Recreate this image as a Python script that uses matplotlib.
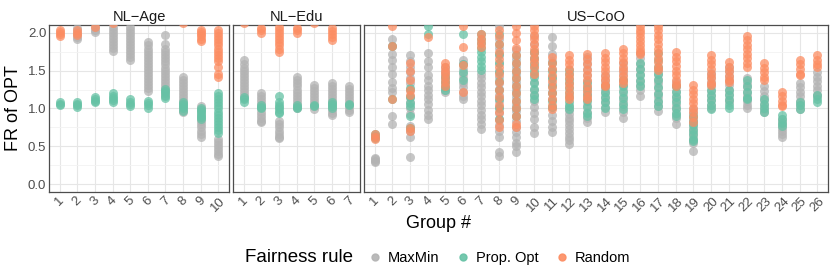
import matplotlib
matplotlib.use('Agg')
import matplotlib.pyplot as plt
from matplotlib.lines import Line2D

plt.rcParams['font.family'] = ['Liberation Sans', 'DejaVu Sans']

PANELS = ['NL−Age', 'NL−Edu', 'US−CoO']
RULES = ['MaxMin', 'Prop. Opt', 'Random']
COLORS = ['#B3B3B3', '#66C2A5', '#FC8D62']
Y_TICKS = [0.0, 0.5, 1.0, 1.5, 2.0]
Y_TICK_LABELS = ['0.0', '0.5', '1.0', '1.5', '2.0']
Y_MINOR = [0.25, 0.75, 1.25, 1.75]

# ---------------- NL-Age (10 groups) ----------------
nl_age_maxmin = [
    [2.3, 2.5],
    [2.06, 2.02, 1.98, 1.94, 1.91],
    [2.08, 2.04, 2.01],
    [2.08, 2.04, 2.0, 1.96, 1.92, 1.88, 1.84, 1.80, 1.76],
    [2.08, 2.04, 2.0, 1.96, 1.92, 1.88, 1.84, 1.80, 1.76, 1.72, 1.68, 1.64],
    [1.87, 1.83, 1.79, 1.75, 1.71, 1.67, 1.63, 1.59, 1.55, 1.51, 1.47, 1.43, 1.39, 1.35, 1.31, 1.27, 1.23],
    [1.97, 1.85, 1.78, 1.74, 1.70, 1.66, 1.62, 1.58, 1.54, 1.50, 1.46, 1.42, 1.38, 1.34, 1.30, 1.26, 1.22, 1.18],
    [1.42, 1.38, 1.34, 1.30, 1.26, 1.22, 1.18, 1.14, 1.10, 1.06, 1.02, 0.98, 0.96],
    [1.03, 0.99, 0.95, 0.91, 0.87, 0.83, 0.79, 0.75, 0.71, 0.67, 0.63],
    [0.60, 0.56, 0.52, 0.48, 0.44, 0.40, 0.37],
]
nl_age_propopt = [
    [1.04, 1.06, 1.08],
    [1.02, 1.04, 1.06, 1.08],
    [1.08, 1.10, 1.12, 1.15],
    [1.08, 1.11, 1.14, 1.17, 1.20],
    [1.03, 1.06, 1.09, 1.12],
    [1.01, 1.04, 1.07, 1.10],
    [1.14, 1.17, 1.20, 1.23, 1.26],
    [0.97, 1.00, 1.03, 1.06, 1.08],
    [0.86, 0.89, 0.92, 0.95, 0.98, 1.01],
    [0.68, 0.72, 0.76, 0.80, 0.84, 0.88, 0.92, 0.96, 1.00, 1.04, 1.08, 1.12, 1.16, 1.20],
]
nl_age_random = [
    [1.95, 1.98, 2.01, 2.04, 2.2],
    [1.97, 2.0, 2.03, 2.2],
    [2.08, 2.2],
    [2.12, 2.3],
    [2.4],
    [2.4],
    [2.4],
    [2.12, 2.3],
    [1.89, 1.92, 1.95, 1.98, 2.01, 2.04, 2.2],
    [1.42, 1.46, 1.55, 1.63, 1.67, 1.71, 1.75, 1.79, 1.83, 1.87, 1.91, 1.95, 1.99, 2.03, 2.2],
]

# ---------------- NL-Edu (7 groups) ----------------
nl_edu_maxmin = [
    [1.64, 1.58, 1.54, 1.50, 1.46, 1.42, 1.38, 1.34, 1.30, 1.26, 1.22, 1.18, 1.14],
    [1.21, 1.16, 1.12, 1.08, 1.04, 1.00, 0.96, 0.92, 0.88, 0.84, 0.82],
    [0.83, 0.79, 0.75, 0.71, 0.67, 0.63, 0.61],
    [1.41, 1.37, 1.33, 1.29, 1.25, 1.21, 1.17, 1.13, 1.09, 1.05, 1.01],
    [1.31, 1.27, 1.23, 1.19, 1.15, 1.11, 1.07, 1.03, 0.99],
    [1.34, 1.30, 1.26, 1.22, 1.18, 1.14, 1.10, 1.06, 1.02, 0.98, 0.94, 0.92],
    [1.30, 1.26, 1.22, 1.18, 1.14, 1.10, 1.06, 1.02, 0.98, 0.96],
]
nl_edu_propopt = [
    [1.09, 1.12, 1.15],
    [1.00, 1.02, 1.04],
    [1.17, 1.08, 1.05, 1.02, 0.99, 0.96, 0.94],
    [1.00, 1.02, 1.04],
    [1.03, 1.05],
    [1.00, 1.03, 1.06, 1.09],
    [1.04, 1.06],
]
nl_edu_random = [
    [2.12, 2.3],
    [2.0, 2.03, 2.06, 2.2],
    [1.75, 1.79, 1.83, 1.87, 1.91, 1.95, 1.99, 2.03, 2.07, 2.2],
    [2.0, 2.03, 2.06, 2.2],
    [2.13, 2.3],
    [1.90, 1.94, 1.98, 2.02, 2.06, 2.2],
    [2.4],
]

# ---------------- US-CoO (26 groups) ----------------
us_coo_maxmin = [
    [0.29, 0.31, 0.33, 0.35],
    [1.91, 1.82, 1.72, 1.64, 1.55, 1.46, 1.35, 1.27, 1.22, 0.90, 0.79],
    [1.70, 1.62, 1.55, 1.48, 1.40, 1.33, 1.25, 1.15, 1.08, 1.00, 0.93, 0.77, 0.70, 0.62, 0.36],
    [1.73, 1.62, 1.55, 1.44, 1.38, 1.30, 1.24, 1.18, 1.12, 1.06, 0.98, 0.92, 0.86],
    [1.55, 1.50, 1.45, 1.40, 1.35, 1.30, 1.25, 1.22],
    [1.64, 1.58, 1.52, 1.46, 1.40, 1.34, 1.28, 1.22, 1.16, 1.12],
    [1.46, 1.40, 1.34, 1.28, 1.22, 1.16, 1.10, 1.04, 0.98, 0.92, 0.86, 0.80, 0.73],
    [2.09, 1.92, 1.80, 1.70, 1.60, 1.50, 1.42, 1.34, 1.26, 1.18, 1.10, 1.02, 0.94, 0.86, 0.78, 0.70, 0.62, 0.43, 0.37],
    [1.77, 1.65, 1.55, 1.45, 1.35, 1.25, 1.15, 1.05, 0.97, 0.90, 0.83, 0.76, 0.69, 0.62, 0.55, 0.51, 0.43],
    [1.95, 1.85, 1.75, 1.65, 1.55, 1.45, 1.35, 1.25, 1.18, 1.10, 1.02, 0.94, 0.86, 0.75, 0.68],
    [1.94, 1.82, 1.72, 1.62, 1.52, 1.42, 1.32, 1.22, 1.12, 1.02, 0.92, 0.84, 0.76, 0.69],
    [1.03, 0.98, 0.93, 0.88, 0.83, 0.78, 0.73, 0.68, 0.63, 0.58, 0.53],
    [1.68, 1.60, 1.52, 1.44, 1.36, 1.28, 1.20, 1.12, 1.04, 0.96, 0.88, 0.82],
    [1.44, 1.38, 1.32, 1.26, 1.20, 1.14, 1.08, 1.02, 0.96],
    [1.60, 1.52, 1.45, 1.38, 1.31, 1.24, 1.17, 1.10, 1.03, 0.96, 0.88],
    [1.73, 1.66, 1.59, 1.52, 1.45, 1.38, 1.31, 1.24, 1.16],
    [1.51, 1.45, 1.39, 1.33, 1.27, 1.21, 1.15, 1.09, 1.03, 0.97],
    [1.35, 1.29, 1.23, 1.17, 1.11, 1.05, 0.99, 0.93, 0.87, 0.79],
    [0.99, 0.94, 0.89, 0.84, 0.79, 0.74, 0.69, 0.64, 0.59, 0.54, 0.44],
    [1.47, 1.41, 1.35, 1.29, 1.23, 1.17, 1.11, 1.05, 1.01],
    [1.55, 1.49, 1.43, 1.37, 1.31, 1.25, 1.19, 1.13, 1.09],
    [1.40, 1.34, 1.28, 1.22, 1.16, 1.10, 1.04, 1.01],
    [1.29, 1.23, 1.17, 1.11, 1.05, 0.99, 0.95],
    [0.86, 0.82, 0.78, 0.74, 0.70, 0.66, 0.62],
    [1.34, 1.28, 1.22, 1.16, 1.10, 1.04, 0.99],
    [1.48, 1.42, 1.36, 1.30, 1.24, 1.18, 1.16],
]
us_coo_propopt = [
    [0.61, 0.64, 0.67],
    [1.82, 1.13],
    [1.27, 1.15, 1.07, 1.03, 0.90, 0.74],
    [2.09, 1.98],
    [1.42, 1.35, 1.28, 1.25],
    [1.98, 1.58, 1.48, 1.37],
    [1.98, 1.92, 1.86, 1.80, 1.74, 1.68, 1.62, 1.56, 1.51],
    [1.98, 1.85, 1.72, 1.60, 1.48, 1.36, 1.24, 1.12, 1.00, 0.86],
    [1.70, 1.60, 1.50, 1.40, 1.30, 1.20, 1.10, 1.00, 0.90],
    [1.74, 1.66, 1.58, 1.50, 1.42, 1.34, 1.26, 1.18, 1.12],
    [1.60, 1.50, 1.40, 1.30, 1.20, 1.10, 1.02],
    [1.51, 1.45, 1.39, 1.33, 1.27, 1.21, 1.15, 1.09, 1.03, 0.99],
    [1.34, 1.26, 1.18, 1.10, 1.02, 0.94, 0.90],
    [1.29, 1.22, 1.15, 1.08, 1.01],
    [1.38, 1.30, 1.22, 1.14, 1.06, 0.99],
    [1.60, 1.52, 1.44, 1.36, 1.29],
    [1.73, 1.64, 1.55, 1.46, 1.37, 1.28, 1.19, 1.10, 1.03],
    [1.29, 1.22, 1.15, 1.08, 1.01, 0.94, 0.90],
    [0.90, 0.84, 0.78, 0.72, 0.66, 0.60, 0.57],
    [1.25, 1.18, 1.11, 1.04, 0.99],
    [1.25, 1.18, 1.11, 1.04, 1.01],
    [1.38, 1.30, 1.22, 1.14, 1.12],
    [1.12, 1.06, 1.00, 0.96],
    [0.91, 0.86, 0.81, 0.77],
    [1.09, 1.04, 0.99],
    [1.18, 1.13, 1.09],
]
us_coo_random = [
    [0.60, 0.63, 0.66],
    [2.09, 1.82, 1.13],
    [1.60, 1.50, 1.37, 1.25, 1.18, 0.74, 0.70],
    [1.94],
    [1.60, 1.55, 1.50, 1.45, 1.40, 1.35, 1.30],
    [2.09, 1.81, 1.57, 1.22],
    [1.98, 1.92, 1.86, 1.81],
    [2.03, 1.95, 1.85, 1.75, 1.65, 1.55, 1.45, 1.35, 1.25, 1.15, 1.05, 0.95, 0.85, 0.75],
    [2.09, 2.00, 1.90, 1.80, 1.70, 1.60, 1.50, 1.40, 1.30, 1.20, 1.10, 1.00, 0.90, 0.80, 0.75],
    [2.09, 2.03, 1.97, 1.91, 1.85, 1.79, 1.73, 1.67, 1.61, 1.55, 1.45],
    [1.68, 1.60, 1.52, 1.44, 1.36, 1.28, 1.20, 1.12, 1.04, 0.99],
    [1.70, 1.64, 1.58, 1.52, 1.46, 1.40, 1.34, 1.28, 1.22, 1.16, 1.12],
    [1.72, 1.65, 1.58, 1.51, 1.44, 1.37, 1.30, 1.23, 1.16, 1.12],
    [1.73, 1.67, 1.61, 1.55, 1.49, 1.43, 1.37, 1.31, 1.29],
    [1.79, 1.73, 1.67, 1.61, 1.55, 1.49, 1.43, 1.37, 1.34],
    [2.09, 2.04, 1.99, 1.94, 1.89, 1.84, 1.79, 1.74, 1.72],
    [2.09, 2.03, 1.97, 1.91, 1.85, 1.79, 1.73, 1.67, 1.61, 1.55, 1.51],
    [1.74, 1.68, 1.62, 1.56, 1.50, 1.44, 1.38, 1.32, 1.29],
    [1.31, 1.25, 1.19, 1.13, 1.07, 1.01, 0.95, 0.89, 0.82],
    [1.70, 1.64, 1.58, 1.52, 1.46, 1.40, 1.34, 1.31],
    [1.61, 1.55, 1.49, 1.43, 1.37, 1.35],
    [1.96, 1.90, 1.84, 1.78, 1.72, 1.66, 1.60, 1.55],
    [1.60, 1.54, 1.48, 1.42, 1.38],
    [1.22, 1.16, 1.10, 1.05, 1.03],
    [1.64, 1.58, 1.52, 1.46, 1.44],
    [1.70, 1.64, 1.58, 1.55],
]

DATA = [
    [nl_age_maxmin, nl_age_propopt, nl_age_random],
    [nl_edu_maxmin, nl_edu_propopt, nl_edu_random],
    [us_coo_maxmin, us_coo_propopt, us_coo_random],
]

W, H = 830, 277
fig = plt.figure(figsize=(W / 100, H / 100), dpi=100)

PANEL_X = [(49, 229), (233, 360), (364, 828)]
Y0, Y1 = 25, 192

TICK_COL = '#4D4D4D'
for p, (name, (x0, x1)) in enumerate(zip(PANELS, PANEL_X)):
    ax = fig.add_axes([x0 / W, 1 - Y1 / H, (x1 - x0) / W, (Y1 - Y0) / H])
    n = len(DATA[p][0])
    for r in range(3):
        xs, ys = [], []
        for g, vals in enumerate(DATA[p][r]):
            xs += [g + 1] * len(vals)
            ys += vals
        ax.scatter(xs, ys, s=42, color=COLORS[r], alpha=0.75, linewidths=0, zorder=3)
    ax.set_xlim(0.4, n + 0.6)
    ax.set_ylim(-0.1, 2.1)
    ax.set_xticks(range(1, n + 1))
    ax.set_xticklabels([str(i) for i in range(1, n + 1)], rotation=45,
                       ha='center', va='top', fontsize=9.5, color=TICK_COL)
    ax.set_yticks(Y_TICKS)
    ax.set_yticks(Y_MINOR, minor=True)
    ax.grid(True, which='major', color='#E6E6E6', lw=0.8, zorder=0)
    ax.grid(True, which='minor', axis='y', color='#F3F3F3', lw=0.6, zorder=0)
    ax.set_axisbelow(True)
    ax.tick_params(axis='both', which='both', length=0, pad=2)
    if p == 0:
        ax.set_yticklabels(Y_TICK_LABELS, fontsize=9.5, color=TICK_COL)
    else:
        ax.tick_params(axis='y', labelleft=False)
    for sp in ax.spines.values():
        sp.set_color('#4D4D4D')
        sp.set_linewidth(0.9)
    ax.set_title(name, fontsize=10.5, pad=3, color='#1A1A1A')

fig.text(13 / W, 1 - 108.5 / H, 'FR of OPT', rotation=90, ha='center', va='center', fontsize=13)
fig.text(438 / W, 1 - 223 / H, 'Group #', ha='center', va='center', fontsize=13)

fig.text(245 / W, 1 - 258 / H, 'Fairness rule', ha='left', va='center', fontsize=13.5)
handles = [Line2D([0], [0], marker='o', ls='', color=c, markersize=5, alpha=0.9) for c in COLORS]
fig.legend(handles, RULES, loc='center left', bbox_to_anchor=(366 / W, 1 - 258 / H),
           ncol=3, frameon=False, fontsize=10.5, handletextpad=0.3, columnspacing=1.0,
           handlelength=1.2, borderaxespad=0, borderpad=0)

fig.savefig('out.png', dpi=100)
